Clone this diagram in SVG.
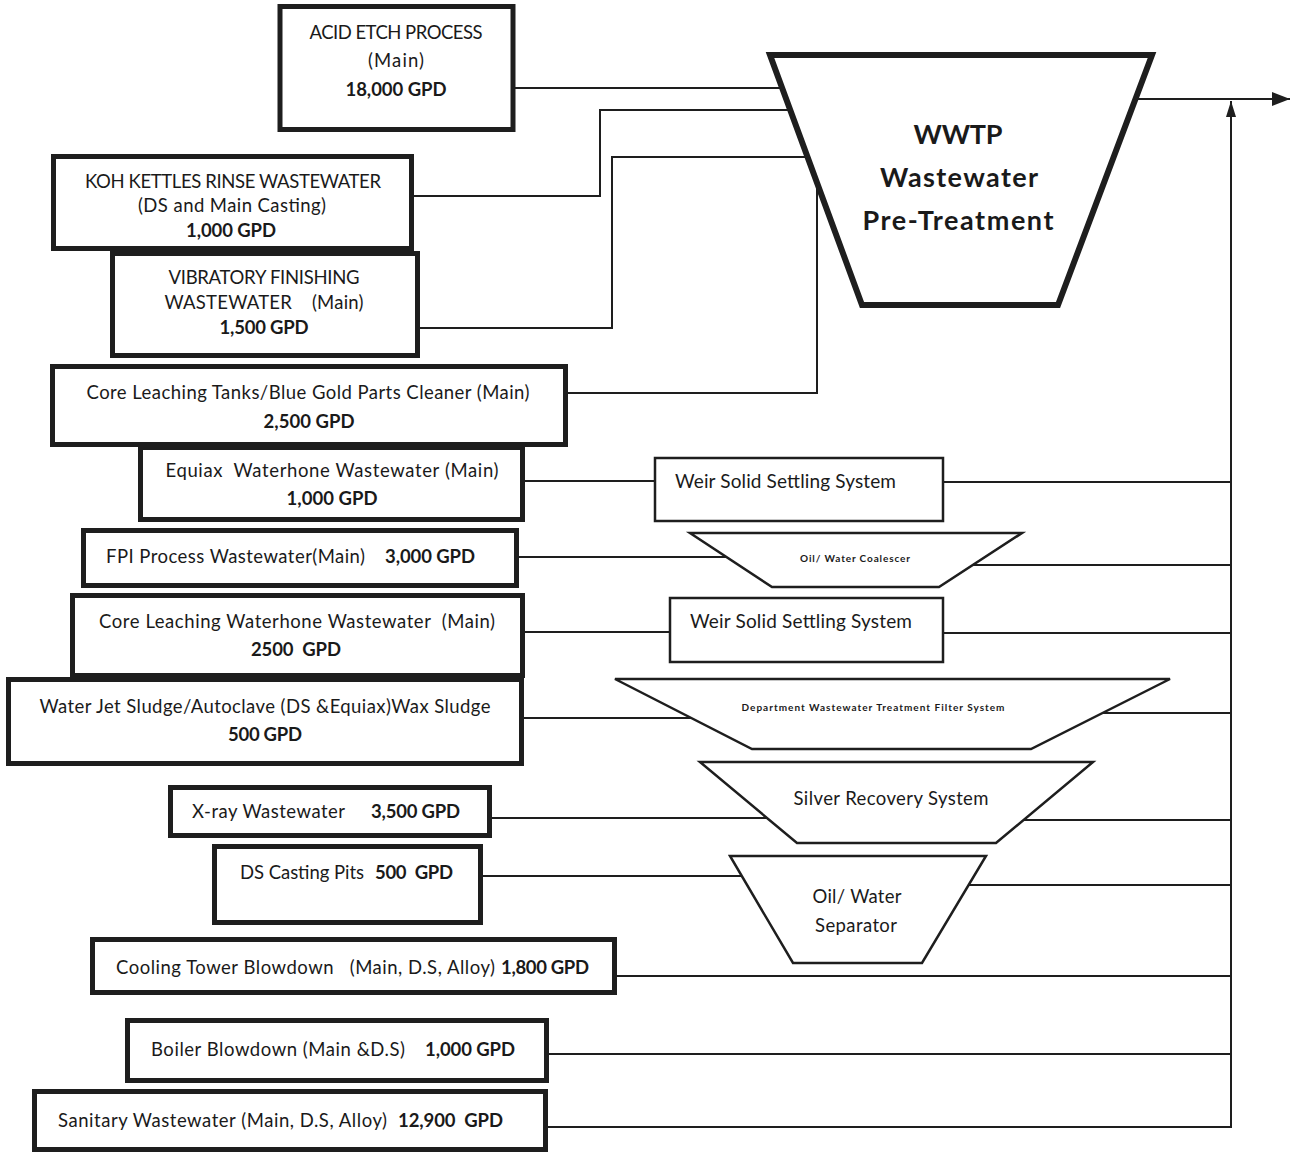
<svg xmlns="http://www.w3.org/2000/svg" width="1291" height="1153" viewBox="0 0 1291 1153">
<style>
.src{fill:#fff;stroke:#1e1e1e;stroke-width:5}
.trt{fill:#fff;stroke:#1e1e1e;stroke-width:2.5}
.big{fill:#fff;stroke:#1e1e1e;stroke-width:6;stroke-linejoin:miter}
.con{fill:none;stroke:#1e1e1e;stroke-width:2}
text{font-family:Lato,"Open Sans","Liberation Sans",sans-serif;font-size:18.5px;fill:#1a1a1a}
.c{text-anchor:middle}
.b{font-weight:bold}
.w{font-size:19px}
.s{font-size:10px;font-weight:bold}
.h{font-size:27px;font-weight:bold;text-anchor:middle}
</style>
<defs>
<marker id="ar" viewBox="0 0 18 14" refX="18" refY="7" markerWidth="18" markerHeight="14" markerUnits="userSpaceOnUse" orient="auto">
<path d="M0,0 L18,7 L0,14 Z" fill="#1e1e1e"/>
</marker>
<marker id="au" viewBox="0 0 16 10" refX="16" refY="5" markerWidth="16" markerHeight="10" markerUnits="userSpaceOnUse" orient="auto">
<path d="M0,0 L16,5 L0,10 Z" fill="#1e1e1e"/>
</marker>
</defs>
<rect width="1291" height="1153" fill="#fff"/>

<g id="connectors">
<path class="con" d="M515 88 H782"/>
<path class="con" d="M414 196 H600 V110 H790"/>
<path class="con" d="M420 328 H612 V157 H808"/>
<path class="con" d="M568 393 H817 V183"/>
<path class="con" d="M525 481 H654"/>
<path class="con" d="M943 482 H1231"/>
<path class="con" d="M519 557 H727"/>
<path class="con" d="M973 565 H1231"/>
<path class="con" d="M525 632 H669"/>
<path class="con" d="M944 633 H1231"/>
<path class="con" d="M524 718 H691"/>
<path class="con" d="M1103 713 H1231"/>
<path class="con" d="M492 818 H767"/>
<path class="con" d="M1024 820 H1231"/>
<path class="con" d="M483 876 H742"/>
<path class="con" d="M969 885 H1231"/>
<path class="con" d="M617 976 H1231"/>
<path class="con" d="M549 1054 H1231"/>
<path class="con" d="M548 1127 H1231"/>
<path class="con" d="M1231 1128 V101" marker-end="url(#au)"/>
<path class="con" d="M1136 99 H1290" marker-end="url(#ar)"/>
</g>

<g id="wwtp">
<polygon class="big" points="770,55 1152,55 1058,305 862,305"/>
<text class="h" x="958" y="144" textLength="89">WWTP</text>
<text class="h" x="959" y="187" textLength="158">Wastewater</text>
<text class="h" x="958" y="230" textLength="191">Pre-Treatment</text>
</g>

<g id="acid">
<rect class="src" x="280" y="6.5" width="233" height="123"/>
<text class="c" x="396" y="39" textLength="173">ACID ETCH PROCESS</text>
<text class="c" x="396" y="67" textLength="56">(Main)</text>
<text class="c b" x="396" y="96" textLength="101">18,000 GPD</text>
</g>

<g id="koh">
<rect class="src" x="53.5" y="156.5" width="358" height="92"/>
<text class="c" x="233" y="188" textLength="296">KOH KETTLES RINSE WASTEWATER</text>
<text class="c" x="232" y="212" textLength="188">(DS and Main Casting)</text>
<text class="c b" x="231" y="237" textLength="90">1,000 GPD</text>
</g>

<g id="vibratory">
<rect class="src" x="112.5" y="253.5" width="305" height="102"/>
<text class="c" x="264" y="284" textLength="191">VIBRATORY FINISHING</text>
<text class="c" x="264" y="309" textLength="199" xml:space="preserve">WASTEWATER    (Main)</text>
<text class="c b" x="264" y="334" textLength="89">1,500 GPD</text>
</g>

<g id="core-tanks">
<rect class="src" x="52.5" y="366.5" width="513" height="78"/>
<text class="c" x="308" y="399" textLength="443">Core Leaching Tanks/Blue Gold Parts Cleaner (Main)</text>
<text class="c b" x="309" y="428" textLength="91">2,500 GPD</text>
</g>

<g id="equiax">
<rect class="src" x="140.5" y="447.5" width="382" height="72"/>
<text class="c" x="332" y="477" textLength="333" xml:space="preserve">Equiax  Waterhone Wastewater (Main)</text>
<text class="c b" x="332" y="505" textLength="91">1,000 GPD</text>
</g>

<g id="fpi">
<rect class="src" x="83.5" y="530.5" width="433" height="55"/>
<text x="106" y="563" textLength="259">FPI Process Wastewater(Main)</text>
<text class="b" x="385" y="563" textLength="90">3,000 GPD</text>
</g>

<g id="core-waterhone">
<rect class="src" x="72.5" y="595.5" width="450" height="80"/>
<text class="c" x="297" y="628" textLength="396" xml:space="preserve">Core Leaching Waterhone Wastewater  (Main)</text>
<text class="c b" x="296" y="656" textLength="90" xml:space="preserve">2500  GPD</text>
</g>

<g id="water-jet">
<rect class="src" x="8.5" y="679.5" width="513" height="84"/>
<text class="c" x="265" y="713" textLength="451">Water Jet Sludge/Autoclave (DS &amp;Equiax)Wax Sludge</text>
<text class="c b" x="265" y="741" textLength="74">500 GPD</text>
</g>

<g id="xray">
<rect class="src" x="170.5" y="787.5" width="319" height="48"/>
<text x="192" y="818" textLength="153">X-ray Wastewater</text>
<text class="b" x="371" y="818" textLength="89">3,500 GPD</text>
</g>

<g id="ds-casting">
<rect class="src" x="214.5" y="846.5" width="266" height="76"/>
<text x="240" y="879" textLength="124">DS Casting Pits</text>
<text class="b" x="375" y="879" textLength="78" xml:space="preserve">500  GPD</text>
</g>

<g id="cooling">
<rect class="src" x="92.5" y="939.5" width="522" height="53"/>
<text x="116" y="974" textLength="379" xml:space="preserve">Cooling Tower Blowdown   (Main, D.S, Alloy)</text>
<text class="b" x="501" y="974" textLength="88">1,800 GPD</text>
</g>

<g id="boiler">
<rect class="src" x="127.5" y="1020.5" width="419" height="60"/>
<text x="151" y="1056" textLength="254">Boiler Blowdown (Main &amp;D.S)</text>
<text class="b" x="425" y="1056" textLength="90">1,000 GPD</text>
</g>

<g id="sanitary">
<rect class="src" x="34.5" y="1091.5" width="511" height="58"/>
<text x="58" y="1127" textLength="329">Sanitary Wastewater (Main, D.S, Alloy)</text>
<text class="b" x="398" y="1127" textLength="105" xml:space="preserve">12,900  GPD</text>
</g>

<g id="weir1">
<rect class="trt" x="655" y="458" width="288" height="63"/>
<text class="w" x="675" y="488" textLength="221">Weir Solid Settling System</text>
</g>

<g id="coalescer">
<polygon class="trt" points="690,533 1022,533 939,587 772,587"/>
<text class="s c" x="855" y="562" textLength="110">Oil/ Water Coalescer</text>
</g>

<g id="weir2">
<rect class="trt" x="670" y="598" width="273" height="64"/>
<text class="w" x="690" y="628" textLength="222">Weir Solid Settling System</text>
</g>

<g id="filter">
<polygon class="trt" points="615,679 1170,679 1031,749 752,749"/>
<text class="s c" x="873" y="711" textLength="263">Department Wastewater Treatment Filter System</text>
</g>

<g id="silver">
<polygon class="trt" points="700,762 1093,762 996,843 797,843"/>
<text class="c" x="891" y="805" textLength="195">Silver Recovery System</text>
</g>

<g id="separator">
<polygon class="trt" points="730,856 986,856 922,963 793,963"/>
<text class="c" x="857" y="903" textLength="89">Oil/ Water</text>
<text class="c" x="856" y="932" textLength="82">Separator</text>
</g>
</svg>
